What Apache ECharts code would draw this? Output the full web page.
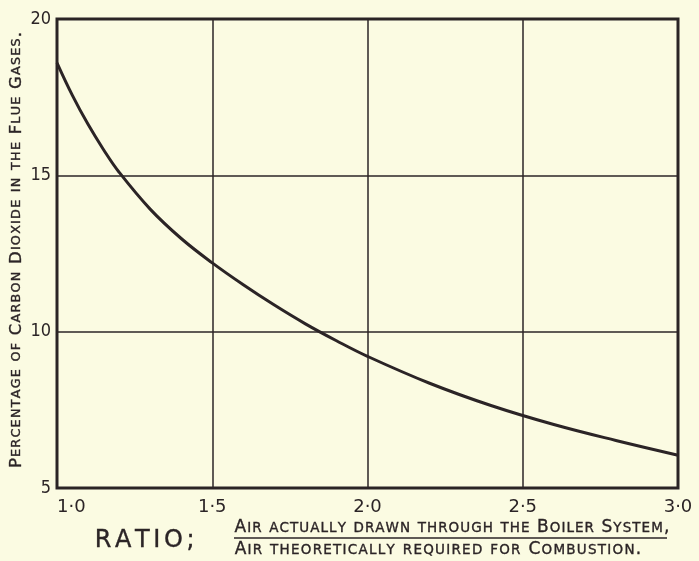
<!DOCTYPE html>
<html>
<head>
<meta charset="utf-8">
<script src="https://cdn.jsdelivr.net/npm/echarts@6/dist/echarts.min.js"></script>
<style>
  html, body { margin: 0; padding: 0; background: #fbfbe2; }
  #chart { width: 699px; height: 561px; }
</style>
</head>
<body>
<div id="chart"></div>
<script>
// Excess-air ratio against CO2 percentage in flue gases
const ratio = [1.0, 1.05, 1.1, 1.15, 1.2, 1.3, 1.4, 1.5, 1.6, 1.7, 1.8, 1.9, 2.0, 2.2, 2.4, 2.6, 2.8, 3.0];
const co2Percent = [18.6, 17.55, 16.63, 15.82, 15.1, 13.92, 12.98, 12.2, 11.5, 10.85, 10.25, 9.71, 9.21, 8.35, 7.63, 7.03, 6.52, 6.05];

const xTicks = [1.0, 1.5, 2.0, 2.5, 3.0];
const xTickLabels = ['1·0', '1·5', '2·0', '2·5', '3·0'];
const yTicks = [5, 10, 15, 20];
const yTickLabels = ['5', '10', '15', '20'];

const yTitle = 'Percentage of Carbon Dioxide in the Flue Gases.';
const ratioWord = 'RATIO;';
const numeratorText = 'Air actually drawn through the Boiler System,';
const denominatorText = 'Air theoretically required for Combustion.';

const ink = '#2b2426';
const font = '"DejaVu Sans", sans-serif';
const tickFont = '"DejaVu Sans Condensed", "DejaVu Sans", sans-serif';

// Letter-spaced small caps: one rich token per character, capitals large,
// lower-case letters drawn as smaller capitals
function spacedCaps(str) {
  let out = '';
  for (const ch of str) {
    const small = ch >= 'a' && ch <= 'z';
    const c = small ? ch.toUpperCase() : ch;
    out += '{' + (small ? 's' : 'b') + '|' + c + '}';
  }
  return out;
}

function capsRich(big, small, gap) {
  const base = {
    fontFamily: font, fill: ink, padding: [0, gap, 0, gap],
    stroke: ink, lineWidth: 0.35
  };
  return {
    b: Object.assign({ fontSize: big }, base),
    s: Object.assign({ fontSize: small }, base)
  };
}

const chart = echarts.init(document.getElementById('chart'), null, { renderer: 'canvas' });

chart.setOption({
  backgroundColor: '#fbfbe2',
  animation: false,
  grid: {
    left: 57, top: 19, right: 21, bottom: 73,
    show: true, borderColor: ink, borderWidth: 3, backgroundColor: 'transparent'
  },
  xAxis: {
    type: 'value', min: 1, max: 3, interval: 0.5,
    axisLine: { show: false },
    axisTick: { show: false },
    splitLine: { show: true, lineStyle: { color: ink, width: 1.5 } },
    axisLabel: {
      margin: 10, color: ink, fontFamily: font, fontSize: 18,
      alignMinLabel: 'left',
      formatter: function (v) {
        const i = xTicks.findIndex(t => Math.abs(t - v) < 1e-6);
        return i >= 0 ? xTickLabels[i] : '';
      }
    }
  },
  yAxis: {
    type: 'value', min: 5, max: 20, interval: 5,
    axisLine: { show: false },
    axisTick: { show: false },
    splitLine: { show: true, lineStyle: { color: ink, width: 1.5 } },
    axisLabel: {
      margin: 6, color: ink, fontFamily: tickFont, fontSize: 18,
      formatter: function (v) {
        const i = yTicks.indexOf(v);
        return i >= 0 ? yTickLabels[i] : '';
      }
    }
  },
  series: [{
    type: 'line',
    data: ratio.map((r, i) => [r, co2Percent[i]]),
    smooth: 0.4,
    showSymbol: false,
    lineStyle: { color: ink, width: 3 },
    clip: true
  }],
  graphic: [
    {
      type: 'text',
      x: 17, y: 250, rotation: Math.PI / 2,
      style: {
        text: spacedCaps(yTitle),
        rich: capsRich(16.5, 12.8, 0.6),
        align: 'center', verticalAlign: 'middle'
      }
    },
    {
      type: 'text',
      x: 93, y: 541,
      style: {
        text: spacedCaps(ratioWord),
        rich: capsRich(24, 24, 1.8),
        align: 'left', verticalAlign: 'middle'
      }
    },
    {
      type: 'text',
      x: 234, y: 528,
      style: {
        text: spacedCaps(numeratorText),
        rich: capsRich(17, 13.5, 0.53),
        align: 'left', verticalAlign: 'middle'
      }
    },
    {
      type: 'line',
      shape: { x1: 234, y1: 538, x2: 667, y2: 538 },
      style: { stroke: ink, lineWidth: 1.5 }
    },
    {
      type: 'text',
      x: 234, y: 550,
      style: {
        text: spacedCaps(denominatorText),
        rich: capsRich(17, 13.5, 0.63),
        align: 'left', verticalAlign: 'middle'
      }
    }
  ]
});
</script>
</body>
</html>
